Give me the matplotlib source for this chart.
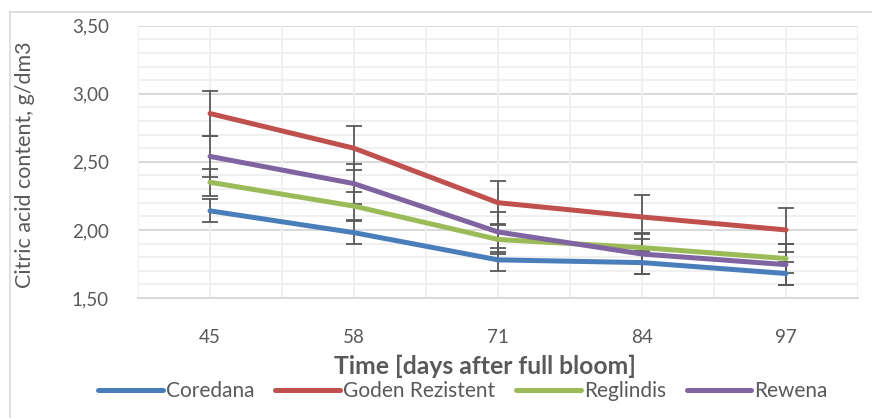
import matplotlib
matplotlib.use("Agg")
import matplotlib.pyplot as plt
from matplotlib.lines import Line2D
import numpy as np

days = ["45", "58", "71", "84", "97"]
series_names = ["Coredana", "Goden Rezistent", "Reglindis", "Rewena"]
coredana = [2.14, 1.98, 1.78, 1.76, 1.68]
goden = [2.855, 2.60, 2.20, 2.095, 2.00]
reglindis = [2.35, 2.175, 1.93, 1.87, 1.79]
rewena = [2.54, 2.34, 1.985, 1.823, 1.745]
err_coredana = [0.085, 0.085, 0.085, 0.087, 0.087]
err_goden = [0.165, 0.16, 0.16, 0.163, 0.162]
err_reglindis = [0.10, 0.105, 0.107, 0.105, 0.105]
err_rewena = [0.15, 0.147, 0.15, 0.15, 0.15]
yticks = [1.50, 2.00, 2.50, 3.00, 3.50]

colors = ["#4A7EBB", "#C0504D", "#9BBB59", "#8064A2"]
text_col = "#595959"
plt.rcParams['font.family'] = ['Lato', 'DejaVu Sans']

W, H = 872, 418
fig = plt.figure(figsize=(W / 100, H / 100), dpi=100)
ax = fig.add_axes([138 / W, 1 - 298 / H, (858 - 138) / W, (298 - 25.7) / H])

x = np.arange(len(days))
data = [coredana, goden, reglindis, rewena]
errs = [err_coredana, err_goden, err_reglindis, err_rewena]

# grid
for v in np.arange(1.5, 3.51, 0.1):
    major = abs((v * 2) - round(v * 2)) < 1e-6
    ax.axhline(v, color="#D9D9D9" if major else "#F0F0F0", lw=1.4, zorder=0)
for xv in np.arange(-0.5, 4.51, 0.5):
    ax.axvline(xv, color="#F0F0F0", lw=1.4, zorder=0)

for vals, e in zip(data, errs):
    ax.errorbar(x, vals, yerr=e, fmt="none", ecolor="#595959", elinewidth=1.3,
                capsize=5.5, capthick=1.3, zorder=2)
handles = []
for vals, c, n in zip(data, colors, series_names):
    l, = ax.plot(x, vals, color=c, lw=3.6, solid_capstyle="round", zorder=3, label=n)
    handles.append(l)

ax.set_xlim(-0.5, 4.5)
ax.set_ylim(1.5, 3.5)
ax.set_yticks(yticks)
ax.set_yticklabels([f"{v:.2f}".replace(".", ",") for v in yticks])
ax.set_xticks(x)
ax.set_xticklabels(days)
ax.tick_params(axis="both", length=0, labelsize=13.5, labelcolor=text_col)
ax.tick_params(axis="y", pad=21)
ax.tick_params(axis="x", pad=22)
for s in ["top", "right", "left"]:
    ax.spines[s].set_visible(False)
ax.spines["bottom"].set_color("#D9D9D9")
ax.spines["bottom"].set_linewidth(1.4)

fig.text(25 / W, 1 - 165 / H, "Citric acid content, g/dm3", rotation=90,
         ha="center", va="center", fontsize=15.5, color=text_col)
fig.text(485 / W, 1 - 366 / H, "Time [days after full bloom]", ha="center",
         va="center", fontsize=17.8, fontweight="bold", color=text_col)

leg = fig.legend(handles=handles, labels=series_names, loc="center",
                 bbox_to_anchor=(463 / W, 1 - 391 / H), ncol=4, frameon=False,
                 fontsize=15, handlelength=3.1, handletextpad=0.15,
                 columnspacing=1.0, borderaxespad=0, borderpad=0)
for t in leg.get_texts():
    t.set_color(text_col)

# chart border (left and top visible)
fig.add_artist(Line2D([10 / W, 10 / W], [0, 1 - 12 / H], transform=fig.transFigure,
                      color="#D9D9D9", lw=1.2))
fig.add_artist(Line2D([10 / W, 1], [1 - 12 / H, 1 - 12 / H], transform=fig.transFigure,
                      color="#D9D9D9", lw=1.2))

fig.savefig("out.png", dpi=100)
